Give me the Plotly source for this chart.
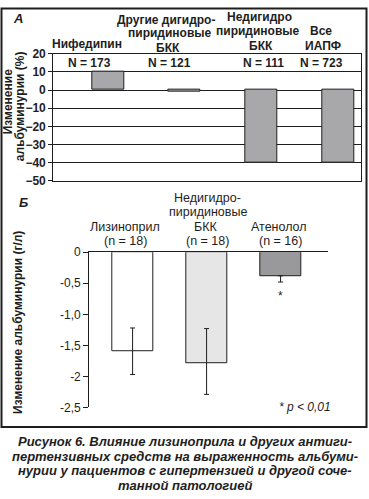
import plotly.graph_objects as go

# ---------- data ----------
a_categories = ["Нифедипин", "Другие дигидропиридиновые БКК", "Недигидропиридиновые БКК", "Все ИАПФ"]
a_values = [10, -1, -40, -40]
a_n = ["N = 173", "N = 121", "N = 111", "N = 723"]
a_ticks = [20, 10, 0, -10, -20, -30, -40, -50]

b_categories = ["Лизиноприл", "Недигидропиридиновые БКК", "Атенолол"]
b_values = [-1.59, -1.78, -0.38]
b_err_plus = [0.37, 0.55, 0.0]
b_err_minus = [0.38, 0.51, 0.10]
b_n = ["(n = 18)", "(n = 18)", "(n = 16)"]
b_tickvals = [0, -0.5, -1.0, -1.5, -2.0, -2.5]
b_ticktext = ["0", "-0,5", "-1,0", "-1,5", "-2", "-2,5"]

W, H = 369, 499
FONT = "Liberation Sans, Arial, sans-serif"
INK = "#1e1e1e"


def px(x):
    return x / W


def py(y):
    return 1 - y / H


fig = go.Figure()

# Panel A bars
fig.add_trace(go.Bar(
    x=list(range(len(a_values))), y=a_values, width=0.417,
    marker=dict(color="#a8a8aa", line=dict(color=INK, width=1)),
    xaxis="x", yaxis="y", showlegend=False, hoverinfo="skip",
))

# Panel B bars
fig.add_trace(go.Bar(
    x=list(range(len(b_values))), y=b_values, width=0.555,
    marker=dict(color=["#ffffff", "#e6e6e6", "#99999b"], line=dict(color=INK, width=1)),
    error_y=dict(type="data", symmetric=False, array=b_err_plus, arrayminus=b_err_minus,
                 color=INK, thickness=1, width=2.5),
    xaxis="x2", yaxis="y2", showlegend=False, hoverinfo="skip",
))

annotations = []


def txt(text, x, y, size=12, bold=True, italic=False, angle=0, xanchor="center"):
    t = text
    if italic:
        t = f"<i>{t}</i>"
    if bold:
        t = f"<b>{t}</b>"
    annotations.append(dict(
        text=t, x=px(x), y=py(y), xref="paper", yref="paper",
        xanchor=xanchor, yanchor="middle", showarrow=False, textangle=angle,
        font=dict(family=FONT, size=size, color=INK),
    ))


# Panel labels
txt("А", 18, 12, size=13, italic=True)
txt("Б", 23, 201, size=13, italic=True)

# Panel A headers
txt("Нифедипин", 87, 38)
txt("Другие дигидро-", 166, 13)
txt("пиридиновые", 170, 27)
txt("БКК", 168, 42)
txt("Недигидро", 259, 10)
txt("пиридиновые", 258, 25)
txt("БКК", 261, 40)
txt("Все", 321, 25)
txt("ИАПФ", 323, 40)
for lab, xc in zip(a_n, [89, 169, 263, 321]):
    txt(lab, xc, 58)

# Panel A y title
txt("Изменение", 8, 98, angle=-90)
txt("альбуминурии (%)", 20, 102, angle=-90)

# Panel B headers
txt("Лизиноприл", 124.5, 226, size=12.5, bold=False)
txt(b_n[0], 125, 241, size=12.5, bold=False)
txt("Недигидро-", 207, 196, size=12.5, bold=False)
txt("пиридиновые", 207.5, 211, size=12.5, bold=False)
txt("БКК", 205, 226, size=12.5, bold=False)
txt(b_n[1], 207, 241, size=12.5, bold=False)
txt("Атенолол", 279, 226, size=12.5, bold=False)
txt(b_n[2], 280, 241, size=12.5, bold=False)

# Panel B y title
txt("Изменение альбуминурии (г/л)", 18, 325, angle=-90)

# significance marks
annotations.append(dict(text="*", x=2, y=-0.70, xref="x2", yref="y2", showarrow=False,
                        xanchor="center", yanchor="middle",
                        font=dict(family=FONT, size=12, color=INK)))
txt("* p < 0,01", 305, 412, size=12, bold=False, italic=True)

# Caption
cap = [
    "Рисунок 6. Влияние лизиноприла и других антиги-",
    "пертензивных средств на выраженность альбуми-",
    "нурии у пациентов с гипертензией и другой соче-",
    "танной патологией",
]
for line, yc in zip(cap, [447, 462, 477, 492]):
    txt(line, 185, yc, size=13, bold=True, italic=True)

fig.update_layout(
    width=W, height=H, autosize=False,
    margin=dict(l=0, r=0, t=0, b=0),
    paper_bgcolor="white", plot_bgcolor="white",
    font=dict(family=FONT, color=INK),
    annotations=annotations,
    bargap=0,
    shapes=[dict(type="rect", xref="paper", yref="paper",
                 x0=px(1.5), x1=px(366.5), y0=py(432), y1=py(1.5),
                 line=dict(color=INK, width=2))],
    xaxis=dict(domain=[px(53.3), px(361)], range=[-0.712, 3.296], anchor="y",
               showline=True, mirror=True, linecolor=INK, linewidth=1.2,
               showticklabels=False, ticks="", showgrid=False, zeroline=False, fixedrange=True),
    yaxis=dict(domain=[py(179), py(48)], range=[-50, 20], anchor="x",
               tickvals=a_ticks, ticks="outside", ticklen=4, tickcolor=INK, tickwidth=1,
               tickfont=dict(family=FONT, size=12, color=INK, weight="bold"),
               showline=True, mirror=True, linecolor=INK, linewidth=1.2,
               showgrid=True, gridcolor=INK, gridwidth=1,
               zeroline=True, zerolinecolor=INK, zerolinewidth=1, fixedrange=True),
    xaxis2=dict(domain=[px(89.3), px(328.3)], range=[-0.585, 2.645], anchor="y2", side="top",
                showline=True, linecolor=INK, linewidth=1.2,
                showticklabels=False, ticks="", showgrid=False, zeroline=False, fixedrange=True),
    yaxis2=dict(domain=[py(412), py(252.3)], range=[-2.5, 0], anchor="x2",
                tickvals=b_tickvals, ticktext=b_ticktext, ticks="outside", ticklen=5,
                tickcolor=INK, tickwidth=1,
                tickfont=dict(family=FONT, size=12, color=INK),
                showline=True, linecolor=INK, linewidth=1.2,
                showgrid=False, zeroline=False, fixedrange=True),
)

fig.write_html(
    "out.html",
    config={"displayModeBar": False},
    post_script="document.body.style.margin='0';document.body.style.padding='0';"
                "document.body.style.overflow='hidden';",
)
